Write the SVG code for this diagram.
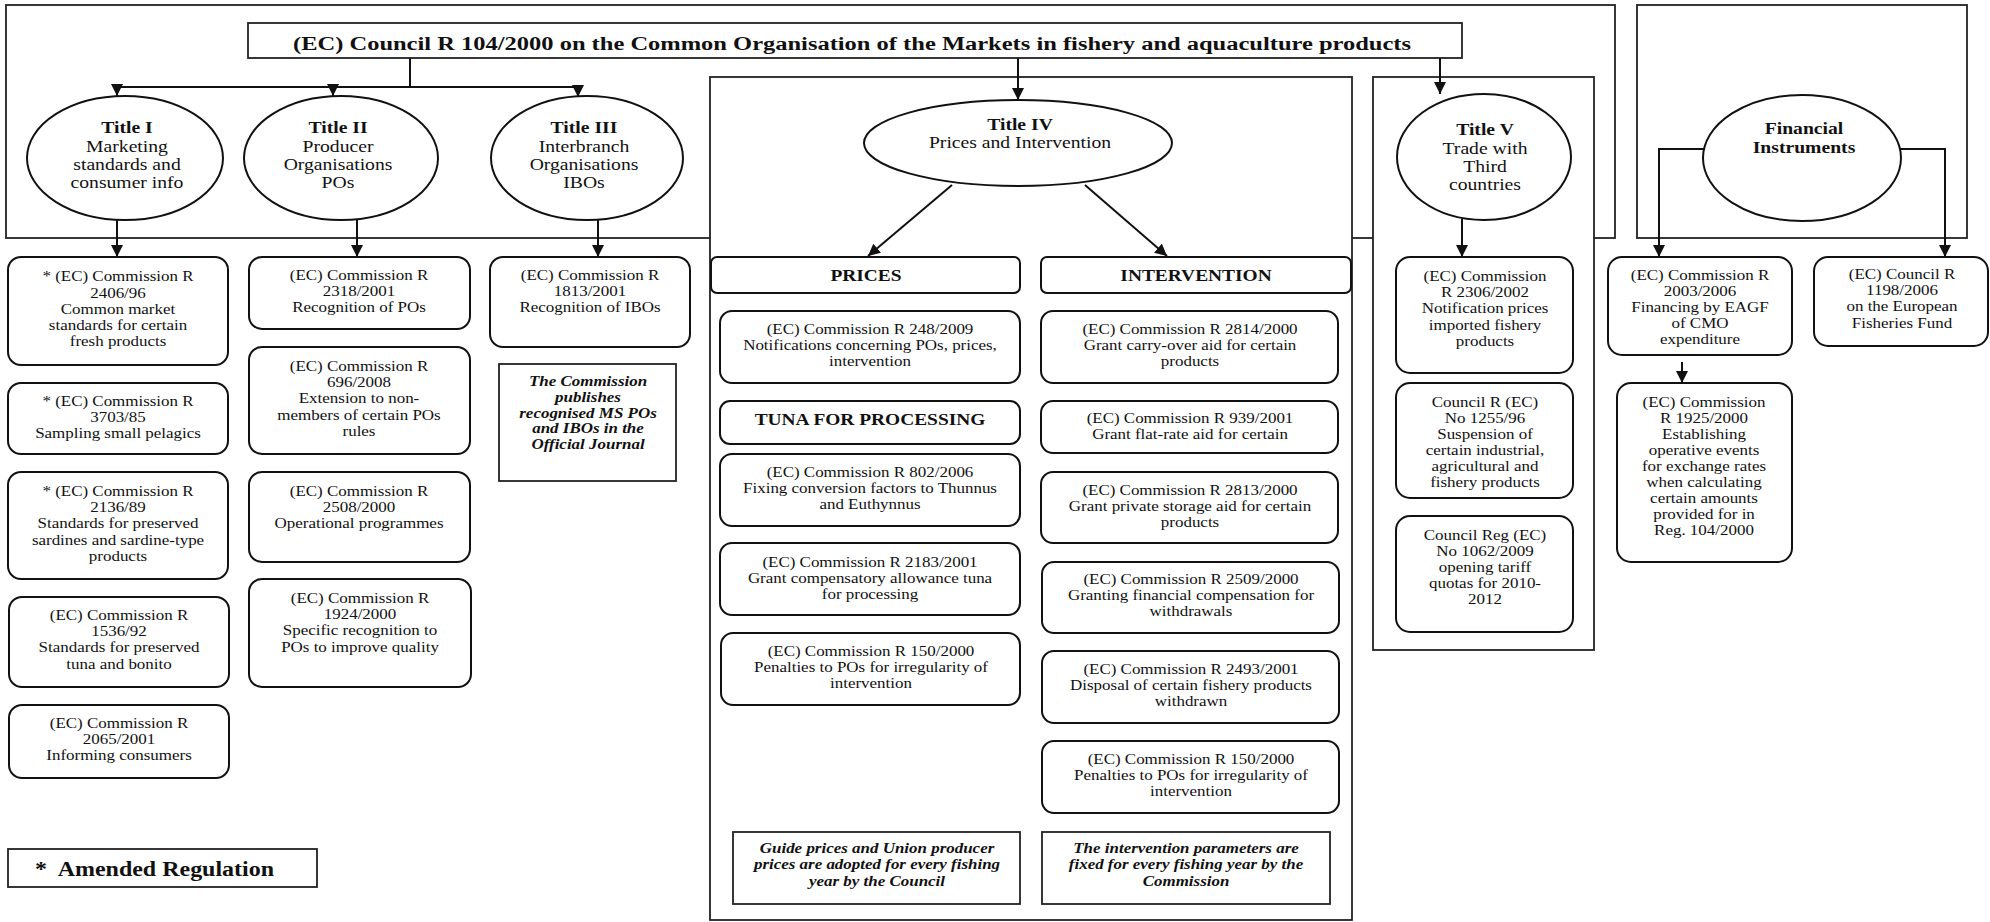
<svg xmlns="http://www.w3.org/2000/svg" width="1990" height="922" viewBox="0 0 1990 922">
<defs>
<style>
.frame{fill:none;stroke:#222;stroke-width:1.8}
.wframe{fill:#fff;stroke:#222;stroke-width:1.8}
.box{fill:#fff;stroke:#111;stroke-width:2}
.sq{fill:#fff;stroke:#222;stroke-width:1.8}
.ell{fill:#fff;stroke:#111;stroke-width:2}
.con{fill:none;stroke:#111;stroke-width:2}
.t{font-family:"Liberation Serif","Times New Roman",serif;font-size:14.5px;fill:#111;text-anchor:middle}
.e{font-size:16.8px}
.b{font-weight:bold}
.bi{font-weight:bold;font-style:italic}
.lab{font-size:16.6px;font-weight:bold}
</style>
<marker id="ah" markerUnits="userSpaceOnUse" markerWidth="14" markerHeight="14" refX="12" refY="6" orient="auto">
<path d="M0,0 L12,6 L0,12 z" fill="#111"/>
</marker>
</defs>
<rect x="0" y="0" width="1990" height="922" fill="#fff"/>

<g id="frames">
<rect class="frame" x="6" y="5" width="1609" height="233"/>
<rect class="frame" x="1637" y="5" width="330" height="233"/>
<rect id="frame-title4" class="wframe" x="710" y="77" width="642" height="843"/>
<rect id="frame-title5" class="wframe" x="1373" y="77" width="221" height="573"/>
</g>

<g id="main">
<rect class="sq" x="248" y="23" width="1214" height="35"/>
<text class="t b" style="font-size:19px" transform="translate(852,0) scale(1.29,1)"><tspan x="0" y="50">(EC) Council R 104/2000 on the Common Organisation of the Markets in fishery and aquaculture products</tspan></text>
</g>

<g id="connectors">
<path class="con" d="M410,58 V87 M117,87 H578"/>
<path class="con" d="M117,87 V96" marker-end="url(#ah)"/>
<path class="con" d="M333,87 V96" marker-end="url(#ah)"/>
<path class="con" d="M578,87 V97" marker-end="url(#ah)"/>
<path class="con" d="M1018,58 V100" marker-end="url(#ah)"/>
<path class="con" d="M1440,58 V94" marker-end="url(#ah)"/>
<path class="con" d="M117,220 V257" marker-end="url(#ah)"/>
<path class="con" d="M357,220 V257" marker-end="url(#ah)"/>
<path class="con" d="M598,219 V257" marker-end="url(#ah)"/>
<path class="con" d="M952,185 L868,256" marker-end="url(#ah)"/>
<path class="con" d="M1085,185 L1167,256" marker-end="url(#ah)"/>
<path class="con" d="M1462,219 V257" marker-end="url(#ah)"/>
<path class="con" d="M1704,149 H1659 V257" marker-end="url(#ah)"/>
<path class="con" d="M1900,149 H1945 V257" marker-end="url(#ah)"/>
<path class="con" d="M1682,362 V383" marker-end="url(#ah)"/>
</g>

<g id="title1">
<ellipse class="ell" cx="125" cy="158" rx="98" ry="62"/>
<text class="t e" transform="translate(127,0) scale(1.17,1)"><tspan class="b" x="0" y="133.5">Title I</tspan><tspan x="0" dy="18.3">Marketing</tspan><tspan x="0" dy="18.3">standards and</tspan><tspan x="0" dy="18.3">consumer info</tspan></text>
</g>
<g id="title2">
<ellipse class="ell" cx="341" cy="158" rx="97" ry="62"/>
<text class="t e" transform="translate(338,0) scale(1.17,1)"><tspan class="b" x="0" y="133.5">Title II</tspan><tspan x="0" dy="18.3">Producer</tspan><tspan x="0" dy="18.3">Organisations</tspan><tspan x="0" dy="18.3">POs</tspan></text>
</g>
<g id="title3">
<ellipse class="ell" cx="587" cy="158" rx="96" ry="62"/>
<text class="t e" transform="translate(584,0) scale(1.17,1)"><tspan class="b" x="0" y="133.5">Title III</tspan><tspan x="0" dy="18.3">Interbranch</tspan><tspan x="0" dy="18.3">Organisations</tspan><tspan x="0" dy="18.3">IBOs</tspan></text>
</g>
<g id="title4">
<ellipse class="ell" cx="1018" cy="143" rx="154" ry="43"/>
<text class="t e" transform="translate(1020,0) scale(1.17,1)"><tspan class="b" x="0" y="130.5">Title IV</tspan><tspan x="0" dy="17.5">Prices and Intervention</tspan></text>
</g>
<g id="title5">
<ellipse class="ell" cx="1484" cy="157" rx="87" ry="63"/>
<text class="t e" transform="translate(1485,0) scale(1.17,1)"><tspan class="b" x="0" y="135.5">Title V</tspan><tspan x="0" dy="18.2">Trade with</tspan><tspan x="0" dy="18.2">Third</tspan><tspan x="0" dy="18.2">countries</tspan></text>
</g>
<g id="financial">
<ellipse class="ell" cx="1802" cy="158" rx="99" ry="63"/>
<text class="t e b" transform="translate(1804,0) scale(1.17,1)"><tspan x="0" y="134.5">Financial</tspan><tspan x="0" dy="18.5">Instruments</tspan></text>
</g>

<g id="r2406-96">
<rect class="box" x="8" y="257" width="220" height="108" rx="13"/>
<text class="t" transform="translate(118,0) scale(1.17,1)"><tspan x="0" y="281.5">* (EC) Commission R</tspan><tspan x="0" dy="16.1">2406/96</tspan><tspan x="0" dy="16.1">Common market</tspan><tspan x="0" dy="16.1">standards for certain</tspan><tspan x="0" dy="16.1">fresh products</tspan></text>
</g>
<g id="r3703-85">
<rect class="box" x="8" y="383" width="220" height="71" rx="13"/>
<text class="t" transform="translate(118,0) scale(1.17,1)"><tspan x="0" y="406">* (EC) Commission R</tspan><tspan x="0" dy="16.2">3703/85</tspan><tspan x="0" dy="16.2">Sampling small pelagics</tspan></text>
</g>
<g id="r2136-89">
<rect class="box" x="8" y="472" width="220" height="107" rx="13"/>
<text class="t" transform="translate(118,0) scale(1.17,1)"><tspan x="0" y="496">* (EC) Commission R</tspan><tspan x="0" dy="16.2">2136/89</tspan><tspan x="0" dy="16.2">Standards for preserved</tspan><tspan x="0" dy="16.2">sardines and sardine-type</tspan><tspan x="0" dy="16.2">products</tspan></text>
</g>
<g id="r1536-92">
<rect class="box" x="9" y="597" width="220" height="90" rx="13"/>
<text class="t" transform="translate(119,0) scale(1.17,1)"><tspan x="0" y="620">(EC) Commission R</tspan><tspan x="0" dy="16.2">1536/92</tspan><tspan x="0" dy="16.2">Standards for preserved</tspan><tspan x="0" dy="16.2">tuna and bonito</tspan></text>
</g>
<g id="r2065-2001">
<rect class="box" x="9" y="705" width="220" height="73" rx="13"/>
<text class="t" transform="translate(119,0) scale(1.17,1)"><tspan x="0" y="728">(EC) Commission R</tspan><tspan x="0" dy="16.2">2065/2001</tspan><tspan x="0" dy="16.2">Informing consumers</tspan></text>
</g>

<g id="r2318-2001">
<rect class="box" x="249" y="257" width="221" height="72" rx="13"/>
<text class="t" transform="translate(359,0) scale(1.17,1)"><tspan x="0" y="280">(EC) Commission R</tspan><tspan x="0" dy="16.2">2318/2001</tspan><tspan x="0" dy="16.2">Recognition of POs</tspan></text>
</g>
<g id="r696-2008">
<rect class="box" x="249" y="347" width="221" height="107" rx="13"/>
<text class="t" transform="translate(359,0) scale(1.17,1)"><tspan x="0" y="371">(EC) Commission R</tspan><tspan x="0" dy="16.2">696/2008</tspan><tspan x="0" dy="16.2">Extension to non-</tspan><tspan x="0" dy="16.2">members of certain POs</tspan><tspan x="0" dy="16.2">rules</tspan></text>
</g>
<g id="r2508-2000">
<rect class="box" x="249" y="472" width="221" height="90" rx="13"/>
<text class="t" transform="translate(359,0) scale(1.17,1)"><tspan x="0" y="496">(EC) Commission R</tspan><tspan x="0" dy="16.2">2508/2000</tspan><tspan x="0" dy="16.2">Operational programmes</tspan></text>
</g>
<g id="r1924-2000">
<rect class="box" x="249" y="579" width="222" height="108" rx="13"/>
<text class="t" transform="translate(360,0) scale(1.17,1)"><tspan x="0" y="603">(EC) Commission R</tspan><tspan x="0" dy="16.2">1924/2000</tspan><tspan x="0" dy="16.2">Specific recognition to</tspan><tspan x="0" dy="16.2">POs to improve quality</tspan></text>
</g>

<g id="r1813-2001">
<rect class="box" x="490" y="257" width="200" height="90" rx="13"/>
<text class="t" transform="translate(590,0) scale(1.17,1)"><tspan x="0" y="280">(EC) Commission R</tspan><tspan x="0" dy="16.2">1813/2001</tspan><tspan x="0" dy="16.2">Recognition of IBOs</tspan></text>
</g>
<g id="note-commission">
<rect class="sq" x="499" y="364" width="177" height="117"/>
<text class="t bi" transform="translate(588,0) scale(1.17,1)"><tspan x="0" y="386">The Commission</tspan><tspan x="0" dy="15.8">publishes</tspan><tspan x="0" dy="15.8">recognised MS POs</tspan><tspan x="0" dy="15.8">and IBOs in the</tspan><tspan x="0" dy="15.8">Official Journal</tspan></text>
</g>

<g id="prices">
<rect class="box" x="711" y="257" width="309" height="36" rx="6"/>
<text class="t lab" transform="translate(866,0) scale(1.17,1)"><tspan x="0" y="281">PRICES</tspan></text>
</g>
<g id="intervention">
<rect class="box" x="1041" y="257" width="310" height="36" rx="6"/>
<text class="t lab" transform="translate(1196,0) scale(1.17,1)"><tspan x="0" y="281">INTERVENTION</tspan></text>
</g>

<g id="r248-2009">
<rect class="box" x="720" y="311" width="300" height="72" rx="12"/>
<text class="t" transform="translate(870,0) scale(1.17,1)"><tspan x="0" y="334">(EC) Commission R 248/2009</tspan><tspan x="0" dy="16.2">Notifications concerning POs, prices,</tspan><tspan x="0" dy="16.2">intervention</tspan></text>
</g>
<g id="tuna">
<rect class="box" x="720" y="401" width="300" height="43" rx="10"/>
<text class="t lab" transform="translate(870,0) scale(1.17,1)"><tspan x="0" y="425">TUNA FOR PROCESSING</tspan></text>
</g>
<g id="r802-2006">
<rect class="box" x="720" y="454" width="300" height="72" rx="12"/>
<text class="t" transform="translate(870,0) scale(1.17,1)"><tspan x="0" y="477">(EC) Commission R 802/2006</tspan><tspan x="0" dy="16.2">Fixing conversion factors to Thunnus</tspan><tspan x="0" dy="16.2">and Euthynnus</tspan></text>
</g>
<g id="r2183-2001">
<rect class="box" x="720" y="543" width="300" height="72" rx="12"/>
<text class="t" transform="translate(870,0) scale(1.17,1)"><tspan x="0" y="567">(EC) Commission R 2183/2001</tspan><tspan x="0" dy="16.2">Grant compensatory allowance tuna</tspan><tspan x="0" dy="16.2">for processing</tspan></text>
</g>
<g id="r150-2000-p">
<rect class="box" x="721" y="633" width="299" height="72" rx="12"/>
<text class="t" transform="translate(871,0) scale(1.17,1)"><tspan x="0" y="656">(EC) Commission R 150/2000</tspan><tspan x="0" dy="16.2">Penalties to POs for irregularity of</tspan><tspan x="0" dy="16.2">intervention</tspan></text>
</g>
<g id="note-prices">
<rect class="sq" x="733" y="832" width="287" height="72"/>
<text class="t bi" transform="translate(877,0) scale(1.17,1)"><tspan x="0" y="853">Guide prices and Union producer</tspan><tspan x="0" dy="16.5">prices are adopted for every fishing</tspan><tspan x="0" dy="16.5">year by the Council</tspan></text>
</g>

<g id="r2814-2000">
<rect class="box" x="1041" y="311" width="297" height="72" rx="12"/>
<text class="t" transform="translate(1190,0) scale(1.17,1)"><tspan x="0" y="334">(EC) Commission R 2814/2000</tspan><tspan x="0" dy="16.2">Grant carry-over aid for certain</tspan><tspan x="0" dy="16.2">products</tspan></text>
</g>
<g id="r939-2001">
<rect class="box" x="1041" y="401" width="297" height="52" rx="12"/>
<text class="t" transform="translate(1190,0) scale(1.17,1)"><tspan x="0" y="423">(EC) Commission R 939/2001</tspan><tspan x="0" dy="16.2">Grant flat-rate aid for certain</tspan></text>
</g>
<g id="r2813-2000">
<rect class="box" x="1041" y="472" width="297" height="71" rx="12"/>
<text class="t" transform="translate(1190,0) scale(1.17,1)"><tspan x="0" y="495">(EC) Commission R 2813/2000</tspan><tspan x="0" dy="16.2">Grant private storage aid for certain</tspan><tspan x="0" dy="16.2">products</tspan></text>
</g>
<g id="r2509-2000">
<rect class="box" x="1042" y="562" width="297" height="71" rx="12"/>
<text class="t" transform="translate(1191,0) scale(1.17,1)"><tspan x="0" y="584">(EC) Commission R 2509/2000</tspan><tspan x="0" dy="16.2">Granting financial compensation for</tspan><tspan x="0" dy="16.2">withdrawals</tspan></text>
</g>
<g id="r2493-2001">
<rect class="box" x="1042" y="651" width="297" height="72" rx="12"/>
<text class="t" transform="translate(1191,0) scale(1.17,1)"><tspan x="0" y="674">(EC) Commission R 2493/2001</tspan><tspan x="0" dy="16.2">Disposal of certain fishery products</tspan><tspan x="0" dy="16.2">withdrawn</tspan></text>
</g>
<g id="r150-2000-i">
<rect class="box" x="1042" y="741" width="297" height="72" rx="12"/>
<text class="t" transform="translate(1191,0) scale(1.17,1)"><tspan x="0" y="764">(EC) Commission R 150/2000</tspan><tspan x="0" dy="16.2">Penalties to POs for irregularity of</tspan><tspan x="0" dy="16.2">intervention</tspan></text>
</g>
<g id="note-intervention">
<rect class="sq" x="1042" y="832" width="288" height="72"/>
<text class="t bi" transform="translate(1186,0) scale(1.17,1)"><tspan x="0" y="853">The intervention parameters are</tspan><tspan x="0" dy="16.5">fixed for every fishing year by the</tspan><tspan x="0" dy="16.5">Commission</tspan></text>
</g>

<g id="r2306-2002">
<rect class="box" x="1396" y="257" width="177" height="116" rx="14"/>
<text class="t" transform="translate(1485,0) scale(1.17,1)"><tspan x="0" y="281">(EC) Commission</tspan><tspan x="0" dy="16.2">R 2306/2002</tspan><tspan x="0" dy="16.2">Notification prices</tspan><tspan x="0" dy="16.2">imported fishery</tspan><tspan x="0" dy="16.2">products</tspan></text>
</g>
<g id="r1255-96">
<rect class="box" x="1396" y="383" width="177" height="115" rx="14"/>
<text class="t" transform="translate(1485,0) scale(1.17,1)"><tspan x="0" y="407">Council R (EC)</tspan><tspan x="0" dy="16.1">No 1255/96</tspan><tspan x="0" dy="16.1">Suspension of</tspan><tspan x="0" dy="16.1">certain industrial,</tspan><tspan x="0" dy="16.1">agricultural and</tspan><tspan x="0" dy="16.1">fishery products</tspan></text>
</g>
<g id="r1062-2009">
<rect class="box" x="1396" y="516" width="177" height="116" rx="14"/>
<text class="t" transform="translate(1485,0) scale(1.17,1)"><tspan x="0" y="540">Council Reg (EC)</tspan><tspan x="0" dy="16.1">No 1062/2009</tspan><tspan x="0" dy="16.1">opening tariff</tspan><tspan x="0" dy="16.1">quotas for 2010-</tspan><tspan x="0" dy="16.1">2012</tspan></text>
</g>

<g id="r2003-2006">
<rect class="box" x="1608" y="257" width="184" height="98" rx="14"/>
<text class="t" transform="translate(1700,0) scale(1.17,1)"><tspan x="0" y="280">(EC) Commission R</tspan><tspan x="0" dy="16.1">2003/2006</tspan><tspan x="0" dy="16.1">Financing by EAGF</tspan><tspan x="0" dy="16.1">of CMO</tspan><tspan x="0" dy="16.1">expenditure</tspan></text>
</g>
<g id="r1925-2000">
<rect class="box" x="1617" y="383" width="175" height="179" rx="14"/>
<text class="t" transform="translate(1704,0) scale(1.17,1)"><tspan x="0" y="407">(EC) Commission</tspan><tspan x="0" dy="16">R 1925/2000</tspan><tspan x="0" dy="16">Establishing</tspan><tspan x="0" dy="16">operative events</tspan><tspan x="0" dy="16">for exchange rates</tspan><tspan x="0" dy="16">when calculating</tspan><tspan x="0" dy="16">certain amounts</tspan><tspan x="0" dy="16">provided for in</tspan><tspan x="0" dy="16">Reg. 104/2000</tspan></text>
</g>
<g id="r1198-2006">
<rect class="box" x="1814" y="257" width="174" height="89" rx="14"/>
<text class="t" transform="translate(1902,0) scale(1.17,1)"><tspan x="0" y="279">(EC) Council R</tspan><tspan x="0" dy="16.2">1198/2006</tspan><tspan x="0" dy="16.2">on the European</tspan><tspan x="0" dy="16.2">Fisheries Fund</tspan></text>
</g>

<g id="legend">
<rect class="sq" x="8" y="849" width="309" height="38"/>
<text class="t b" style="font-size:20.5px;text-anchor:start" transform="translate(35,0) scale(1.17,1)" xml:space="preserve"><tspan x="0" y="876.5">*  Amended Regulation</tspan></text>
</g>
</svg>
